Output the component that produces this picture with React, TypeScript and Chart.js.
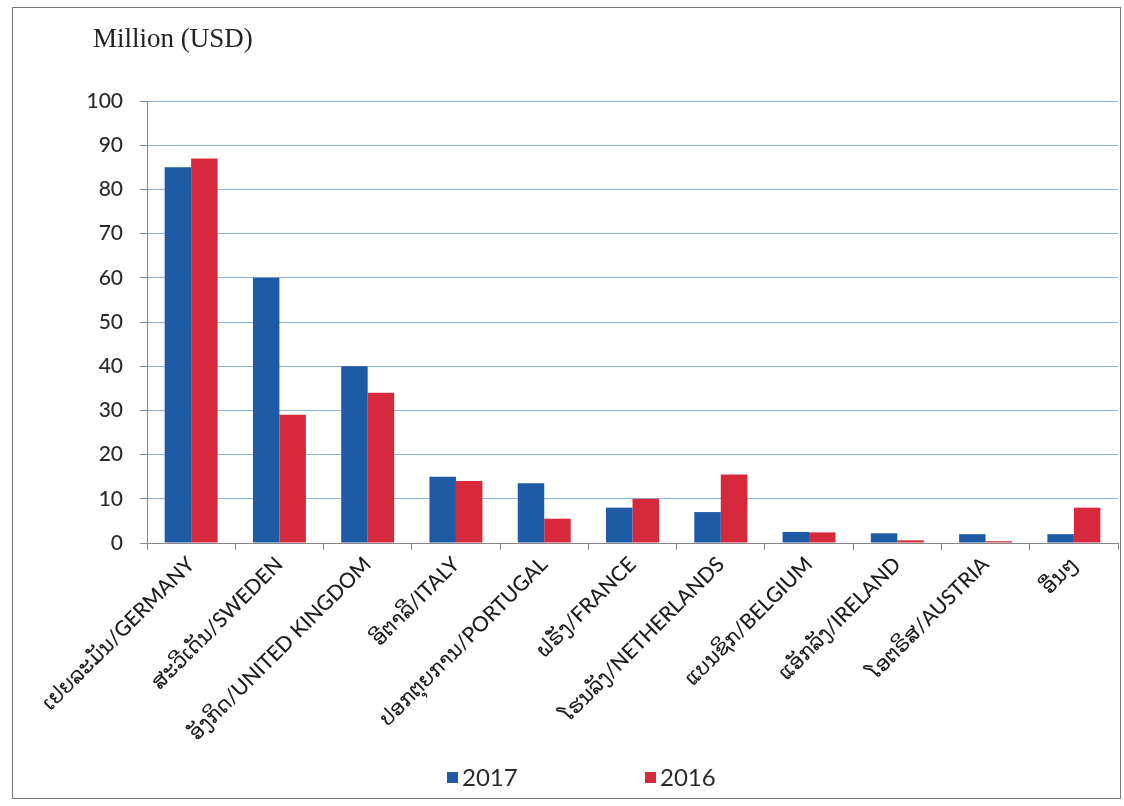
import React, { useEffect, useRef } from "react";
import { Chart, registerables } from "chart.js";

Chart.register(...registerables);

const categories: string[] = [
  "ເຢຍລະມັນ/GERMANY",
  "ສະວີເດັນ/SWEDEN",
  "ອັງກິດ/UNITED KINGDOM",
  "ອີຕາລີ/ITALY",
  "ປອກຕຸຍການ/PORTUGAL",
  "ຝຣັ່ງ/FRANCE",
  "ໂຮນລັງ/NETHERLANDS",
  "ແບນຊິກ/BELGIUM",
  "ແອັກລັງ/IRELAND",
  "ໂອຕຣິສ/AUSTRIA",
  "ອື່ນໆ",
];

const values2017: number[] = [85, 60, 40, 15, 13.5, 8, 7, 2.5, 2.2, 2, 2];
const values2016: number[] = [87, 29, 34, 14, 5.5, 10, 15.5, 2.4, 0.6, 0.4, 8];

const seriesLabels: string[] = ["2017", "2016"];
const seriesColors: string[] = ["#1f5aa6", "#d62a3c"];

const yTitle = "Million (USD)";

const LABEL_FONT = "Lato, 'DejaVu Sans', sans-serif";

const overlayPlugin = {
  id: "overlay",
  afterDraw(chart: any) {
    const { ctx, chartArea } = chart;
    ctx.save();
    // axis title
    ctx.fillStyle = "#222";
    ctx.font = "27px 'Liberation Serif', 'Times New Roman', serif";
    ctx.textAlign = "left";
    ctx.textBaseline = "middle";
    ctx.fillText(yTitle, chartArea.left - 54, 40);
    // legend
    const items = chart.data.datasets.map((d: any) => ({ text: d.label, color: d.backgroundColor }));
    const xs = [chartArea.left + 300, chartArea.left + 498];
    const y = 778;
    ctx.font = "24px " + LABEL_FONT;
    items.forEach((it: any, i: number) => {
      ctx.fillStyle = it.color;
      ctx.fillRect(xs[i], y - 6, 11, 11);
      ctx.fillStyle = "#2a2a2a";
      ctx.fillText(it.text, xs[i] + 15, y);
    });
    ctx.restore();
  },
};

export default function App() {
  const canvasRef = useRef<HTMLCanvasElement | null>(null);

  useEffect(() => {
    if (!canvasRef.current) return;
    const chart = new Chart(canvasRef.current, {
      type: "bar",
      data: {
        labels: categories,
        datasets: [
          {
            label: seriesLabels[0],
            data: values2017,
            backgroundColor: seriesColors[0],
            categoryPercentage: 0.6,
            barPercentage: 1.0,
          },
          {
            label: seriesLabels[1],
            data: values2016,
            backgroundColor: seriesColors[1],
            categoryPercentage: 0.6,
            barPercentage: 1.0,
          },
        ],
      },
      options: {
        animation: false,
        responsive: false,
        maintainAspectRatio: false,
        layout: { padding: { left: 0, right: 6, top: 101, bottom: 48 } },
        plugins: {
          legend: { display: false },
          tooltip: { enabled: false },
          title: { display: false },
        },
        scales: {
          x: {
            afterFit: (scale: any) => {
              scale.height = 215;
            },
            grid: {
              display: true,
              drawOnChartArea: false,
              drawTicks: true,
              tickLength: 7,
              tickColor: "#888",
              offset: true,
            },
            border: { display: true, color: "#888", width: 1 },
            ticks: {
              autoSkip: false,
              minRotation: 45,
              maxRotation: 45,
              color: "#1e1e1e",
              padding: 2,
              font: { family: LABEL_FONT, size: 21, weight: "500" },
            },
          },
          y: {
            min: 0,
            max: 100,
            afterFit: (scale: any) => {
              scale.width = 147;
            },
            grid: {
              color: "#8fb6e0",
              lineWidth: 1,
              drawTicks: true,
              tickLength: 7,
              tickColor: "#888",
            },
            border: { display: true, color: "#888", width: 1 },
            ticks: {
              stepSize: 10,
              color: "#2a2a2a",
              padding: 17,
              font: { family: LABEL_FONT, size: 21, weight: "500" },
            },
          },
        },
      },
      plugins: [overlayPlugin],
    });
    return () => chart.destroy();
  }, []);

  return (
    <div style={{ position: "absolute", left: 0, top: 0, width: 1124, height: 806, background: "#fff" }}>
      <canvas ref={canvasRef} width={1124} height={806} style={{ display: "block" }} />
      <div
        style={{
          position: "absolute",
          left: 12,
          top: 7,
          width: 1107,
          height: 790,
          border: "1.5px solid #777",
          pointerEvents: "none",
        }}
      />
    </div>
  );
}
